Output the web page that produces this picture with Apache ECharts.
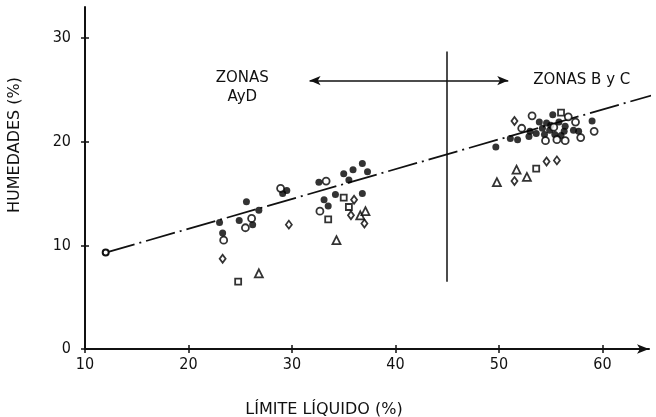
<!DOCTYPE html>
<html>
<head>
<meta charset="utf-8">
<script src="https://cdn.jsdelivr.net/npm/echarts@6/dist/echarts.min.js"></script>
<style>
  html, body { margin: 0; padding: 0; background: #fff; }
  #chart { width: 656px; height: 417px; }
</style>
</head>
<body>
<div id="chart"></div>
<script>
// valores (limite liquido %, humedad %)
var filledPts = [
  [23.0, 12.2], [23.3, 11.2], [25.6, 14.2], [24.9, 12.4], [26.2, 12.0], [26.8, 13.4],
  [29.1, 15.0], [29.5, 15.3], [32.6, 16.1], [35.0, 16.9], [35.9, 17.3], [36.8, 17.9],
  [37.3, 17.1], [35.5, 16.3], [33.1, 14.4], [33.5, 13.8], [34.2, 14.9], [36.8, 15.0],
  [49.7, 19.5], [51.1, 20.3], [51.8, 20.2], [52.9, 20.5], [53.6, 20.8], [53.9, 21.9],
  [54.6, 21.8], [55.2, 22.6], [55.8, 21.9], [54.9, 21.1], [54.4, 20.7], [55.4, 20.7],
  [56.3, 21.0], [56.4, 21.5], [57.2, 21.1], [57.7, 21.0], [59.0, 22.0], [55.0, 21.6],
  [56.0, 20.6], [54.2, 21.3], [53.0, 21.0]
]
var openPts = [
  [23.4, 10.5], [26.1, 12.6], [25.5, 11.7], [28.9, 15.5], [33.3, 16.2], [32.7, 13.3],
  [53.2, 22.5], [52.2, 21.3], [54.5, 20.1], [55.6, 20.2], [56.4, 20.1], [57.4, 21.9],
  [57.9, 20.4], [59.2, 21.0], [56.7, 22.4], [55.3, 21.4]
]
var squarePts = [[24.8, 6.5], [35.0, 14.6], [35.5, 13.7], [33.5, 12.5], [56.0, 22.8], [53.6, 17.4]]
var diamondPts = [
  [23.3, 8.7], [29.7, 12.0], [36.0, 14.4], [35.7, 12.9], [37.0, 12.1],
  [51.5, 22.0], [51.5, 16.2], [54.6, 18.1], [55.6, 18.2]
]
var trianglePts = [[26.8, 7.3], [34.3, 10.5], [36.6, 12.9], [37.1, 13.3], [49.8, 16.1], [51.7, 17.3], [52.7, 16.6]]

// recta de ajuste
var fitLine = [[12, 9.3], [65.2, 24.6]]

// separacion de zonas
var zoneLimit = 45
var zoneLimitY = [6.5, 28.7]
var arrowY = 25.9
var arrowEnds = [31.7, 50.9]

var xTicks = [10, 20, 30, 40, 50, 60]
var yTicks = [0, 10, 20, 30]

var chart = echarts.init(document.getElementById('chart'))

var fontFam = '"Liberation Sans Narrow", "DejaVu Sans Condensed", "Liberation Sans", sans-serif'
var gridBox = { left: 85, right: 7, top: 7, bottom: 68, containLabel: false, outerBoundsMode: 'none' }

function scatter(name, data, symbol, size, filled) {
  return {
    name: name,
    type: 'scatter',
    data: data,
    symbol: symbol,
    symbolSize: size,
    itemStyle: {
      color: filled ? '#000' : '#fff',
      borderColor: '#000',
      borderWidth: filled ? 0 : 1.8
    },
    z: 5
  }
}

chart.setOption({
  backgroundColor: '#fff',
  animation: false,
  textStyle: { fontFamily: fontFam },
  grid: [
    Object.assign({}, gridBox),
    Object.assign({}, gridBox)
  ],
  xAxis: [{
    type: 'value',
    min: 10,
    max: 64.5,
    interval: 10,
    name: 'LÍMITE LÍQUIDO (%)',
    nameLocation: 'middle',
    nameGap: 53,
    nameTextStyle: { fontSize: 16, color: '#111', fontFamily: '"DejaVu Sans", sans-serif', padding: [0, 86, 0, 0] },
    axisLine: { lineStyle: { color: '#111', width: 2 }, symbol: ['none', 'arrow'], symbolSize: [7, 12] },
    axisTick: { customValues: xTicks, length: 4, lineStyle: { color: '#111', width: 1.5 } },
    axisLabel: { customValues: xTicks, fontSize: 16, color: '#111', margin: 8 },
    splitLine: { show: false }
  }, {
    gridIndex: 1,
    type: 'value',
    min: 10,
    max: 64.5,
    axisLine: { show: false },
    axisTick: { customValues: xTicks, inside: true, length: 4, lineStyle: { color: '#111', width: 1.5 } },
    axisLabel: { show: false },
    splitLine: { show: false }
  }],
  yAxis: [{
    type: 'value',
    min: 0,
    max: 33,
    interval: 10,
    name: 'HUMEDADES (%)',
    nameLocation: 'middle',
    nameGap: 62,
    nameTextStyle: { fontSize: 16, color: '#111', fontFamily: '"DejaVu Sans", sans-serif', padding: [0, 0, 0, 66] },
    axisLine: { lineStyle: { color: '#111', width: 2 } },
    axisTick: { customValues: yTicks, length: 4, lineStyle: { color: '#111', width: 1.5 } },
    axisLabel: { customValues: yTicks, fontSize: 16, color: '#111', margin: 14 },
    splitLine: { show: false }
  }, {
    gridIndex: 1,
    type: 'value',
    min: 0,
    max: 33,
    axisLine: { show: false },
    axisTick: { customValues: yTicks, inside: true, length: 4, lineStyle: { color: '#111', width: 1.5 } },
    axisLabel: { show: false },
    splitLine: { show: false }
  }],
  series: [
    {
      name: 'ajuste',
      type: 'line',
      data: [
        { value: fitLine[0], symbol: 'emptyCircle', symbolSize: 6 },
        { value: fitLine[1], symbol: 'none' }
      ],
      clip: false,
      lineStyle: { color: '#111', width: 1.8, type: [30, 5, 2, 5] },
      itemStyle: { color: '#111', borderWidth: 1.8 },
      z: 3,
      markLine: {
        silent: true,
        animation: false,
        label: { show: false },
        lineStyle: { color: '#111', width: 1.5, type: 'solid' },
        symbolSize: [7, 11],
        data: [
          [{ coord: [zoneLimit, zoneLimitY[0]], symbol: 'none' }, { coord: [zoneLimit, zoneLimitY[1]], symbol: 'none' }],
          [{ coord: [zoneLimit, arrowY], symbol: 'none' }, { coord: [arrowEnds[0], arrowY], symbol: 'arrow' }],
          [{ coord: [zoneLimit, arrowY], symbol: 'none' }, { coord: [arrowEnds[1], arrowY], symbol: 'arrow' }]
        ]
      },
      markPoint: {
        silent: true,
        symbol: 'circle',
        symbolSize: 1,
        itemStyle: { color: 'rgba(0,0,0,0)' },
        label: {
          show: true,
          position: 'inside',
          color: '#111',
          fontSize: 15,
          fontFamily: '"DejaVu Sans", sans-serif',
          lineHeight: 19,
          align: 'center'
        },
        data: [
          { coord: [25.2, 25.2], value: 'ZONAS\nAyD', label: { formatter: 'ZONAS\nAyD' } },
          { coord: [58.0, 25.9], value: 'ZONAS B y C', label: { formatter: 'ZONAS B y C' } }
        ]
      }
    },
    scatter('circulo lleno', filledPts, 'circle', 7, true),
    scatter('circulo', openPts, 'circle', 7, false),
    scatter('cuadrado', squarePts, 'rect', 6, false),
    scatter('rombo', diamondPts, 'diamond', [6, 8], false),
    scatter('triangulo', trianglePts, 'triangle', 8, false)
  ]
})
</script>
</body>
</html>
